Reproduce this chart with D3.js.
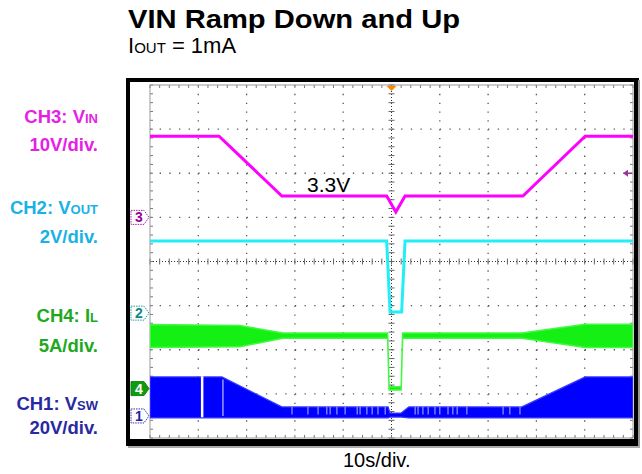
<!DOCTYPE html>
<html><head><meta charset="utf-8">
<script src="https://cdn.jsdelivr.net/npm/d3@7"></script>
<style>html,body{margin:0;padding:0;background:#fff;}svg{display:block;font-family:"Liberation Sans",Arial,sans-serif;}</style>
</head><body>
<svg id="c" width="642" height="474"></svg>
<script>
// ---- data (time in seconds, 10 s/div) ----
const timeDomain = [0, 100];
const vinT  = [0, 14.3, 27.3, 49.0, 50.9, 52.8, 77.2, 90.1, 100];
const vinV  = [18.4, 18.4, 4.85, 4.85, 1.2, 4.85, 4.85, 18.4, 18.4];
const voutT = [0, 49.0, 49.7, 52.1, 52.8, 100];
const voutV = [3.27, 3.27, 0.05, 0.05, 3.27, 3.27];
const ilT   = [0, 18.6, 27.5, 49.2, 49.5, 52.0, 52.3, 77.0, 90.1, 100];
const ilHi  = [7.25, 7.15, 6.3, 6.3, 0.2, 0.2, 6.3, 6.3, 7.3, 7.3];
const ilLo  = [4.65, 4.75, 5.7, 5.7, -0.15, -0.15, 5.7, 5.7, 4.65, 4.65];
const vswT  = [0, 14.9, 27.3, 49.3, 49.7, 52.0, 53.6, 77.0, 90.1, 100];
const vswHi = [17.7, 17.7, 4.1, 4.1, 1.3, 1.3, 4.1, 4.1, 17.7, 17.7];
const vswLo = [-0.9, -0.9, -0.9, -0.9, -0.5, -0.5, -0.9, -0.9, -0.9, -0.9];
const vswGapT   = [10.8];
const vswFaintT = [15.1];
const vswNotchT = [29.4, 32.7, 34.8, 36.6, 37.3, 38.7, 40.4, 42.9, 43.5, 44.9, 46.0, 47.2, 48.7,
                   54.9, 55.5, 56.5, 57.6, 59.0, 60.0, 61.7, 62.7, 63.6, 65.6, 73.1, 74.5, 76.6];
const channelNames = ["CH3", "CH2", "CH4", "CH1"];
const channelPerDiv = [10, 2, 5, 20];
const channelGroundDiv = [3.0, 5.17, 6.88, 7.5];
const labelMain = ["CH3: V", "CH2: V", "CH4: I", "CH1: V"];
const labelSub  = ["IN", "OUT", "L", "SW"];
const labelScale = ["10V/div.", "2V/div.", "5A/div.", "20V/div."];
const markerText = ["3", "2", "4", "1"];
const title = "VIN Ramp Down and Up";
const timeLabel = "10s/div.";
const levelLabel = "3.3V";

// ---- layout ----
const svg = d3.select("#c");
svg.append("rect").attr("width", 642).attr("height", 474).attr("fill", "#fff");
const X0 = 150, X1 = 633, Y0 = 85, Y1 = 438;
const divW = (X1 - X0) / 10, divH = (Y1 - Y0) / 8;
const x = d3.scaleLinear().domain(timeDomain).range([X0, X1]);
const gy = d3.scaleLinear().domain([0, 8]).range([Y0, Y1]);
const yCh = i => {
  const g = gy(channelGroundDiv[i]);
  return d3.scaleLinear().domain([0, channelPerDiv[i]]).range([g, g - divH]);
};

// title
svg.append("text").attr("x", 128).attr("y", 28).attr("font-size", 26).attr("font-weight", "bold")
  .attr("textLength", 332).attr("lengthAdjust", "spacingAndGlyphs").text(title);
const st = svg.append("text").attr("x", 128).attr("y", 53).attr("font-size", 22);
st.append("tspan").text("I");
st.append("tspan").attr("font-size", 15).text("OUT");
st.append("tspan").text(" = 1mA");

// frame
svg.append("rect").attr("x", 126).attr("y", 78).attr("width", 513).attr("height", 368).attr("fill", "#000");
svg.append("rect").attr("x", 638).attr("y", 80).attr("width", 2).attr("height", 368).attr("fill", "#999");
svg.append("rect").attr("x", 128).attr("y", 446).attr("width", 512).attr("height", 2).attr("fill", "#aaa");
svg.append("rect").attr("x", 130).attr("y", 82).attr("width", 504).attr("height", 357).attr("fill", "#fff");

// grid
const grid = svg.append("g");
const gridCol = "#555";
d3.range(1, 10).filter(k => k !== 5).forEach(k => {
  grid.append("line").attr("x1", X0 + k * divW).attr("x2", X0 + k * divW).attr("y1", Y0).attr("y2", Y1)
    .attr("stroke", gridCol).attr("stroke-width", 1.3).attr("stroke-dasharray", `1.3 ${divH / 5 - 1.3}`);
});
d3.range(1, 8).filter(k => k !== 4).forEach(k => {
  grid.append("line").attr("x1", X0).attr("x2", X1).attr("y1", Y0 + k * divH).attr("y2", Y0 + k * divH)
    .attr("stroke", gridCol).attr("stroke-width", 1.3).attr("stroke-dasharray", `1.3 ${divW / 5 - 1.3}`);
});
// center lines
const cx = X0 + 5 * divW, cy = Y0 + 4 * divH;
grid.append("line").attr("x1", X0).attr("x2", X1).attr("y1", cy).attr("y2", cy)
  .attr("stroke", "#333").attr("stroke-width", 1).attr("stroke-dasharray", "1 2");
grid.append("line").attr("x1", cx).attr("x2", cx).attr("y1", Y0).attr("y2", Y1)
  .attr("stroke", "#333").attr("stroke-width", 1).attr("stroke-dasharray", "1 2");
d3.range(0, 51).forEach(k => {
  const xx = X0 + k * divW / 5;
  grid.append("line").attr("x1", xx).attr("x2", xx).attr("y1", cy - 3).attr("y2", cy + 3).attr("stroke", "#666");
  grid.append("line").attr("x1", xx).attr("x2", xx).attr("y1", Y0).attr("y2", Y0 + 3).attr("stroke", "#777");
  grid.append("line").attr("x1", xx).attr("x2", xx).attr("y1", Y1 - 3).attr("y2", Y1).attr("stroke", "#777");
});
d3.range(0, 41).forEach(k => {
  const yy = Y0 + k * divH / 5;
  grid.append("line").attr("x1", cx - 3).attr("x2", cx + 3).attr("y1", yy).attr("y2", yy).attr("stroke", "#666");
  grid.append("line").attr("x1", X0).attr("x2", X0 + 3).attr("y1", yy).attr("y2", yy).attr("stroke", "#777");
  grid.append("line").attr("x1", X1 - 3).attr("x2", X1).attr("y1", yy).attr("y2", yy).attr("stroke", "#777");
});
grid.append("rect").attr("x", X0).attr("y", Y0).attr("width", X1 - X0).attr("height", Y1 - Y0)
  .attr("fill", "none").attr("stroke", "#999").attr("stroke-width", 1);

// traces
svg.append("clipPath").attr("id", "clip").append("rect").attr("x", X0).attr("y", Y0).attr("width", X1 - X0).attr("height", Y1 - Y0);
const tr = svg.append("g").attr("clip-path", "url(#clip)");

// CH1 VSW band
const y1s = yCh(3);
const vswData = vswT.map((t, i) => ({ t, lo: vswLo[i], hi: vswHi[i] }));
tr.append("path").datum(vswData)
  .attr("d", d3.area().x(d => x(d.t)).y0(d => y1s(d.lo)).y1(d => y1s(d.hi)))
  .attr("fill", "#0000ff").attr("stroke", "#3a3aff").attr("stroke-width", 1.2);
vswNotchT.forEach(t => {
  tr.append("line").attr("x1", x(t)).attr("x2", x(t)).attr("y1", y1s(4.3)).attr("y2", y1s(0.6))
    .attr("stroke", "#8c8cff").attr("stroke-width", 1.3);
});
vswGapT.forEach(t => {
  tr.append("line").attr("x1", x(t)).attr("x2", x(t)).attr("y1", y1s(18)).attr("y2", y1s(-0.6))
    .attr("stroke", "#fff").attr("stroke-width", 2.5);
});
vswFaintT.forEach(t => {
  tr.append("line").attr("x1", x(t)).attr("x2", x(t)).attr("y1", y1s(16.5)).attr("y2", y1s(0))
    .attr("stroke", "#9a9aff").attr("stroke-width", 1.5);
});

// CH4 IL band
const y4s = yCh(2);
const ilData = ilT.map((t, i) => ({ t, lo: ilLo[i], hi: ilHi[i] }));
tr.append("path").datum(ilData)
  .attr("d", d3.area().x(d => x(d.t)).y0(d => y4s(d.lo)).y1(d => y4s(d.hi)))
  .attr("fill", "#14f014").attr("stroke", "#44f844").attr("stroke-width", 1.5);

// CH2 VOUT
const y2s = yCh(1);
tr.append("path").datum(voutT.map((t, i) => ({ t, v: voutV[i] })))
  .attr("d", d3.line().x(d => x(d.t)).y(d => y2s(d.v)))
  .attr("fill", "none").attr("stroke", "#22eef8").attr("stroke-width", 3);

// CH3 VIN
const y3s = yCh(0);
tr.append("path").datum(vinT.map((t, i) => ({ t, v: vinV[i] })))
  .attr("d", d3.line().x(d => x(d.t)).y(d => y3s(d.v)))
  .attr("fill", "none").attr("stroke", "#ff00ff").attr("stroke-width", 3);

// level label
svg.append("text").attr("x", 307).attr("y", 192).attr("font-size", 21).attr("fill", "#000").text(levelLabel);

// trigger markers
svg.append("path").attr("d", `M${cx - 5},${Y0 + 1}L${cx + 5},${Y0 + 1}L${cx},${Y0 + 6}Z`).attr("fill", "#ff8800");
const trigY = Y0 + 2 * divH;
svg.append("path").attr("d", `M${X1 - 10},${trigY}L${X1 - 5},${trigY - 3.5}L${X1 - 5},${trigY + 3.5}Z`).attr("fill", "#993399");
svg.append("line").attr("x1", X1 - 6).attr("x2", X1 - 1).attr("y1", trigY).attr("y2", trigY).attr("stroke", "#993399").attr("stroke-width", 1.5);

// ground markers
const mkStroke = ["#aa22aa", "#22a0a0", "#118811", "#3333aa"];
const mkFill = ["#fff", "#fff", "#119911", "#fff"];
const mkText = ["#990099", "#118888", "#fff", "#2222aa"];
channelNames.forEach((n, i) => {
  const c = gy(channelGroundDiv[i]);
  svg.append("path").attr("d", `M131,${c - 7}L144,${c - 7}L149,${c}L144,${c + 7}L131,${c + 7}Z`)
    .attr("fill", mkFill[i]).attr("stroke", mkStroke[i]).attr("stroke-width", 1)
    .attr("stroke-dasharray", i === 2 ? null : "1.5 1");
  svg.append("text").attr("x", 139).attr("y", c + 5).attr("text-anchor", "middle")
    .attr("font-size", 14).attr("font-weight", "bold").attr("fill", mkText[i]).text(markerText[i]);
});

// channel labels
const labCol = ["#e61ee6", "#1ab2e6", "#20a820", "#2a2aa0"];
const labY1 = [123, 214, 322, 410];
const labY2 = [151, 243, 352, 434];
channelNames.forEach((n, i) => {
  const t = svg.append("text").attr("x", 98).attr("y", labY1[i]).attr("text-anchor", "end")
    .attr("font-size", 18.5).attr("font-weight", "bold").attr("fill", labCol[i]);
  t.append("tspan").text(labelMain[i]);
  t.append("tspan").attr("font-size", 13).text(labelSub[i]);
  svg.append("text").attr("x", 98).attr("y", labY2[i]).attr("text-anchor", "end")
    .attr("font-size", 18.5).attr("font-weight", "bold").attr("fill", labCol[i]).text(labelScale[i]);
});

// time/div label
svg.append("text").attr("x", 343).attr("y", 467).attr("font-size", 20).attr("fill", "#000").text(timeLabel);
</script>
</body></html>
